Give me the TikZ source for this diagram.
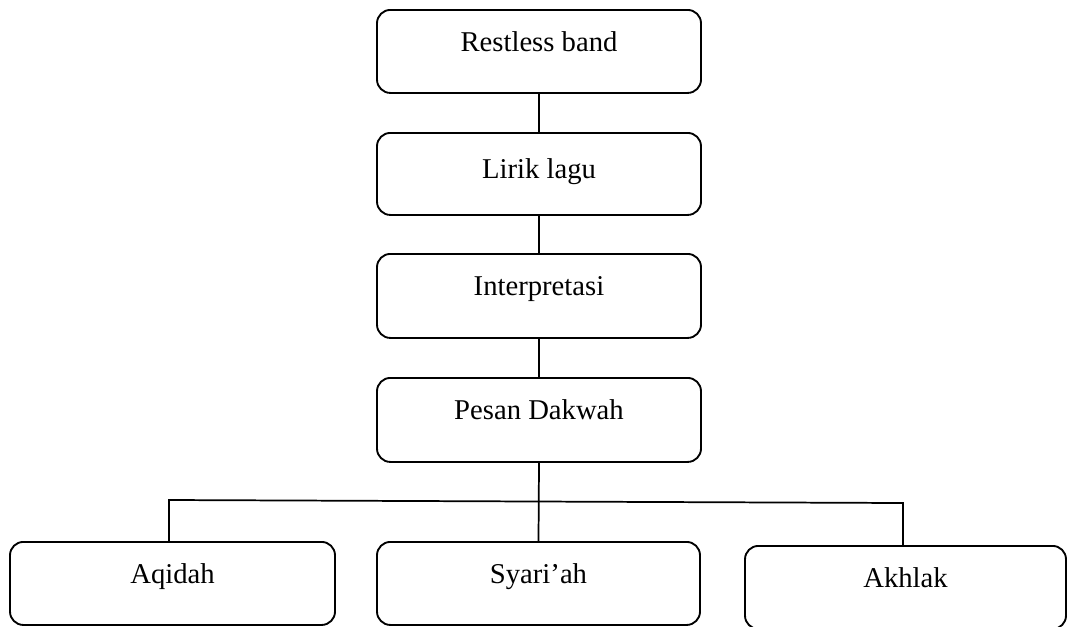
\documentclass[tikz,border=0pt]{standalone}
\usepackage{fontspec}
\setmainfont{Liberation Serif}
\usepackage{tikz}
\usetikzlibrary{positioning}

\begin{document}
\begin{tikzpicture}[
        x=0.75pt, y=-0.75pt,
        font=\fontsize{21.5}{26}\selectfont,
        every box/.style={draw, line width=1.4pt, rounded corners=10pt, inner sep=0pt,
            minimum width=243pt, text height=31.5pt, text depth=31.5pt, anchor=north},
        box/.style={every box},
        link/.style={draw, line width=1.3pt}
    ]
        \useasboundingbox (0,0) rectangle (1067,626);
        \node[box, text depth=30.75pt] (band) at (539,9) {Restless band};
        \node[box, text height=34.5pt, text depth=27pt] (lirik) at (539,132) {Lirik lagu};
        \node[box] (interp) at (539,253) {Interpretasi};
        \node[box] (pesan) at (539,377) {Pesan Dakwah};
        \node[box, minimum width=243.75pt, text depth=30.75pt] (aqidah) at (172.5,541) {Aqidah};
        \node[box, minimum width=242.25pt, text depth=30.75pt] (syariah) at (538.5,541) {Syari’ah};
        \node[box, minimum width=240.75pt, text depth=30.75pt] (akhlak) at (905.5,545) {Akhlak};
        \coordinate (hl) at (169,500);
        \coordinate (hr) at (903,503);
        \path[link] (band) -- (lirik);
        \path[link] (lirik) -- (interp);
        \path[link] (interp) -- (pesan);
        \path[link] (pesan.south) -- (syariah.north);
        \path[link] (hl |- aqidah.north) -- (hl) -- (hr) -- (hr |- akhlak.north);
    \end{tikzpicture}
\end{document}
